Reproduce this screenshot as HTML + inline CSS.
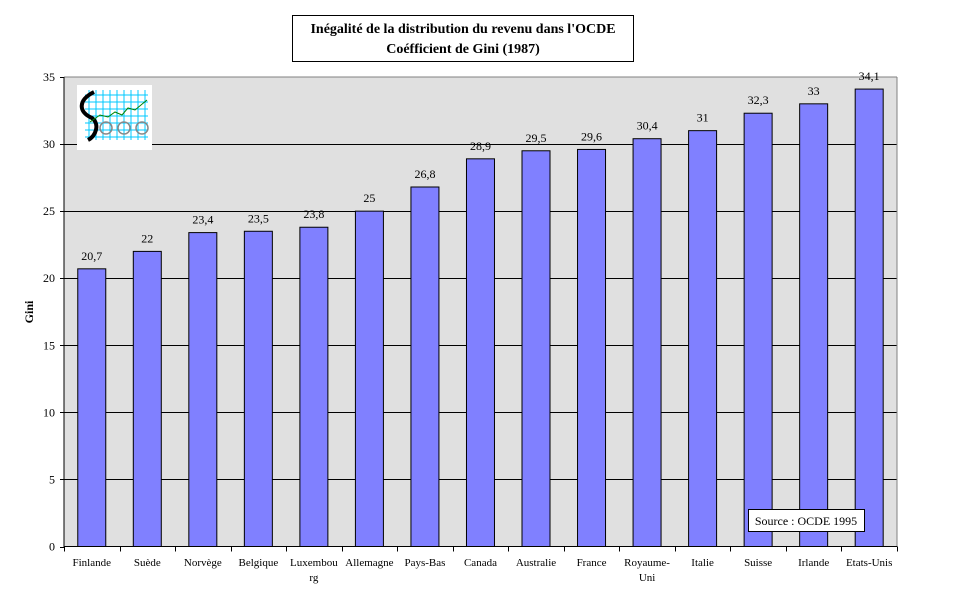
<!DOCTYPE html>
<html><head><meta charset="utf-8"><style>
body{margin:0;background:#fff;width:970px;height:602px;overflow:hidden;font-family:"Liberation Serif",serif}
</style></head><body>
<svg width="970" height="602" xmlns="http://www.w3.org/2000/svg" id="svg">
<rect x="292.5" y="15.5" width="341" height="46" fill="#fff" stroke="#000"/>
<text x="463" y="33" text-anchor="middle" font-size="14" font-weight="bold">Inégalité de la distribution du revenu dans l'OCDE</text>
<text x="463" y="53" text-anchor="middle" font-size="14" font-weight="bold">Coéfficient de Gini  (1987)</text>
<rect x="64" y="77" width="833" height="470" fill="#e0e0e0"/>
<g id="grid"></g>
<g id="bars"></g>
<line x1="897" y1="77" x2="897" y2="547" stroke="#808080"/>
<line x1="64" y1="77" x2="897" y2="77" stroke="#808080"/>
<line x1="64" y1="77" x2="64" y2="547" stroke="#000"/>
<line x1="64" y1="546.5" x2="897" y2="546.5" stroke="#000"/>
<g id="labels" font-size="11"></g>
<text transform="translate(33,312) rotate(-90)" text-anchor="middle" font-size="12" font-weight="bold">Gini</text>
<g>
<rect x="77" y="85" width="75" height="65" fill="#fff"/>
<g stroke="#00c8ff" stroke-width="1">
<line x1="89" y1="90" x2="89" y2="140"/><line x1="96" y1="90" x2="96" y2="140"/><line x1="103" y1="90" x2="103" y2="140"/><line x1="110" y1="90" x2="110" y2="140"/><line x1="117" y1="90" x2="117" y2="140"/><line x1="124" y1="90" x2="124" y2="140"/><line x1="131" y1="90" x2="131" y2="140"/><line x1="138" y1="90" x2="138" y2="140"/><line x1="145" y1="90" x2="145" y2="140"/>
<line x1="85" y1="95" x2="148" y2="95"/><line x1="85" y1="102" x2="148" y2="102"/><line x1="85" y1="109" x2="148" y2="109"/><line x1="85" y1="116" x2="148" y2="116"/><line x1="85" y1="123" x2="148" y2="123"/><line x1="85" y1="130" x2="148" y2="130"/><line x1="85" y1="137" x2="148" y2="137"/>
</g>
<path d="M94 92 C78 100,78 112,92 118 C100 124,96 136,88 140" stroke="#000" stroke-width="4" fill="none"/>
<polyline points="90,122 100,115 108,117 115,112 122,115 128,108 135,110 147,100" stroke="#008000" fill="none"/>
<g stroke="#888" fill="none" stroke-width="1.5"><circle cx="106" cy="128" r="6"/><circle cx="124" cy="128" r="6"/><circle cx="142" cy="128" r="6"/></g>
</g>
<rect x="748.5" y="509.5" width="116" height="22" fill="#fff" stroke="#000"/>
<text x="806" y="525" text-anchor="middle" font-size="12">Source : OCDE  1995</text>
</svg>
<script>
const categories=["Finlande","Suède","Norvège","Belgique","Luxembourg","Allemagne","Pays-Bas","Canada","Australie","France","Royaume-Uni","Italie","Suisse","Irlande","Etats-Unis"];
const catLines=[["Finlande"],["Suède"],["Norvège"],["Belgique"],["Luxembou","rg"],["Allemagne"],["Pays-Bas"],["Canada"],["Australie"],["France"],["Royaume-","Uni"],["Italie"],["Suisse"],["Irlande"],["Etats-Unis"]];
const values=[20.7,22,23.4,23.5,23.8,25,26.8,28.9,29.5,29.6,30.4,31,32.3,33,34.1];
const valueLabels=["20,7","22","23,4","23,5","23,8","25","26,8","28,9","29,5","29,6","30,4","31","32,3","33","34,1"];
const yTicks=[0,5,10,15,20,25,30,35];
const NS="http://www.w3.org/2000/svg";
const X0=64,CW=55.53,Y0=546.5,YT=77;
const y=v=>Y0-(Y0-YT)*v/35;
const x=i=>X0+CW*(i+0.5);
function mk(t,a,p){const e=document.createElementNS(NS,t);for(const k in a)e.setAttribute(k,a[k]);p.appendChild(e);return e;}
const grid=document.getElementById('grid'),bars=document.getElementById('bars'),labels=document.getElementById('labels');
yTicks.forEach(v=>{
  if(v>0&&v<35){const l=mk('line',{x1:X0,x2:897,y1:Math.round(y(v))+0.5,y2:Math.round(y(v))+0.5,stroke:'#000'},grid);
  
  }
  mk('line',{x1:X0-4,x2:X0,y1:Math.round(y(v))+0.5,y2:Math.round(y(v))+0.5,stroke:'#000'},labels);
  const t=mk('text',{x:X0-9,y:y(v)+4,'text-anchor':'end','font-size':12},labels);t.textContent=v;
  
  
});
for(let i=0;i<=categories.length;i++){mk('line',{x1:Math.round(X0+CW*i)+0.5,x2:Math.round(X0+CW*i)+0.5,y1:Y0,y2:Y0+5,stroke:'#000'},labels);}
values.forEach((v,i)=>{
  const r=mk('rect',{x:x(i)-14,y:y(v),width:28,height:Y0-y(v),fill:'#8080ff',stroke:'#000'},bars);
  
  
  const t=mk('text',{x:x(i),y:y(v)-9,'text-anchor':'middle','font-size':12},labels);t.textContent=valueLabels[i];
  
  
  catLines[i].forEach((s,j)=>{const c=mk('text',{x:x(i),y:566+j*15,'text-anchor':'middle'},labels);c.textContent=s;
  
  });
});
</script>
</body></html>
